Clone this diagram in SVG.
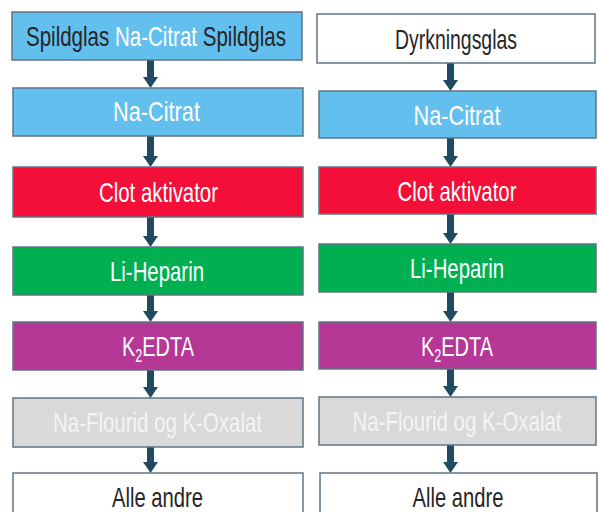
<svg xmlns="http://www.w3.org/2000/svg" width="599" height="512" viewBox="0 0 599 512">
<defs>
<style>
.box{stroke:#5d7584;stroke-width:1.5}
.t{font-family:"Liberation Sans",Arial,sans-serif;font-size:28.5px;text-anchor:middle}
.dk{fill:#262626}
.wt{fill:#ffffff}
.gy{fill:#f4f4f4}
.blue{fill:#63bfed}
.red{fill:#f30f38}
.green{fill:#00b050}
.purple{fill:#b53796}
.grey{fill:#d9d9d9}
.white{fill:#ffffff}
.arr{fill:#1f4a5f}
</style>
</defs>
<rect width="599" height="512" fill="#ffffff"/>
<g id="connectors" class="arr">
<path d="M147,60 H154 V77 H158 L150.5,88 L143,77 H147 Z"/>
<path d="M147,136 H154 V156 H158 L150.5,167 L143,156 H147 Z"/>
<path d="M147,217 H154 V236 H158 L150.5,247 L143,236 H147 Z"/>
<path d="M147,295 H154 V311 H158 L150.5,322 L143,311 H147 Z"/>
<path d="M147,370 H154 V387 H158 L150.5,398 L143,387 H147 Z"/>
<path d="M147,447 H154 V462 H158 L150.5,473 L143,462 H147 Z"/>
<path d="M447,63 H454 V80 H458 L450.5,91 L443,80 H447 Z"/>
<path d="M447,138 H454 V156 H458 L450.5,167 L443,156 H447 Z"/>
<path d="M447,214 H454 V233 H458 L450.5,244 L443,233 H447 Z"/>
<path d="M447,292 H454 V311 H458 L450.5,322 L443,311 H447 Z"/>
<path d="M447,369 H454 V386 H458 L450.5,397 L443,386 H447 Z"/>
<path d="M447,445 H454 V462 H458 L450.5,473 L443,462 H447 Z"/>
</g>
<g id="L1"><rect class="box blue" x="12" y="12" width="290" height="48"/>
<text class="t" x="156" y="46" textLength="260" lengthAdjust="spacingAndGlyphs"><tspan class="dk">Spildglas </tspan><tspan class="wt">Na-Citrat </tspan><tspan class="dk">Spildglas</tspan></text></g>
<g id="L2"><rect class="box blue" x="13" y="88" width="290" height="48"/>
<text class="t wt" x="156.5" y="121" textLength="87" lengthAdjust="spacingAndGlyphs">Na-Citrat</text></g>
<g id="L3"><rect class="box red" x="13" y="167" width="290" height="50"/>
<text class="t wt" x="158.5" y="202" textLength="119" lengthAdjust="spacingAndGlyphs">Clot aktivator</text></g>
<g id="L4"><rect class="box green" x="13" y="247" width="290" height="48"/>
<text class="t wt" x="157" y="281" textLength="94" lengthAdjust="spacingAndGlyphs">Li-Heparin</text></g>
<g id="L5"><rect class="box purple" x="13" y="322" width="290" height="48"/>
<text class="t wt" x="158" y="356" textLength="72" lengthAdjust="spacingAndGlyphs">K<tspan font-size="18" dy="6">2</tspan><tspan dy="-6">EDTA</tspan></text></g>
<g id="L6"><rect class="box grey" x="13" y="398" width="290" height="49"/>
<text class="t gy" x="157.5" y="432" textLength="209" lengthAdjust="spacingAndGlyphs">Na-Flourid og K-Oxalat</text></g>
<g id="L7"><rect class="box white" x="13" y="473" width="290" height="50"/>
<text class="t dk" x="157.5" y="507" textLength="91" lengthAdjust="spacingAndGlyphs">Alle andre</text></g>
<g id="R1"><rect class="box white" x="317" y="14" width="278" height="49"/>
<text class="t dk" x="456" y="49" textLength="122" lengthAdjust="spacingAndGlyphs">Dyrkningsglas</text></g>
<g id="R2"><rect class="box blue" x="319" y="91" width="277" height="47"/>
<text class="t wt" x="457" y="125" textLength="87" lengthAdjust="spacingAndGlyphs">Na-Citrat</text></g>
<g id="R3"><rect class="box red" x="319" y="167" width="277" height="47"/>
<text class="t wt" x="457" y="201" textLength="119" lengthAdjust="spacingAndGlyphs">Clot aktivator</text></g>
<g id="R4"><rect class="box green" x="319" y="244" width="277" height="48"/>
<text class="t wt" x="457" y="278" textLength="94" lengthAdjust="spacingAndGlyphs">Li-Heparin</text></g>
<g id="R5"><rect class="box purple" x="319" y="322" width="277" height="47"/>
<text class="t wt" x="457" y="356" textLength="72" lengthAdjust="spacingAndGlyphs">K<tspan font-size="18" dy="6">2</tspan><tspan dy="-6">EDTA</tspan></text></g>
<g id="R6"><rect class="box grey" x="319" y="397" width="277" height="48"/>
<text class="t gy" x="457" y="431" textLength="209" lengthAdjust="spacingAndGlyphs">Na-Flourid og K-Oxalat</text></g>
<g id="R7"><rect class="box white" x="320" y="473" width="277" height="50"/>
<text class="t dk" x="458" y="507" textLength="91" lengthAdjust="spacingAndGlyphs">Alle andre</text></g>
</svg>
